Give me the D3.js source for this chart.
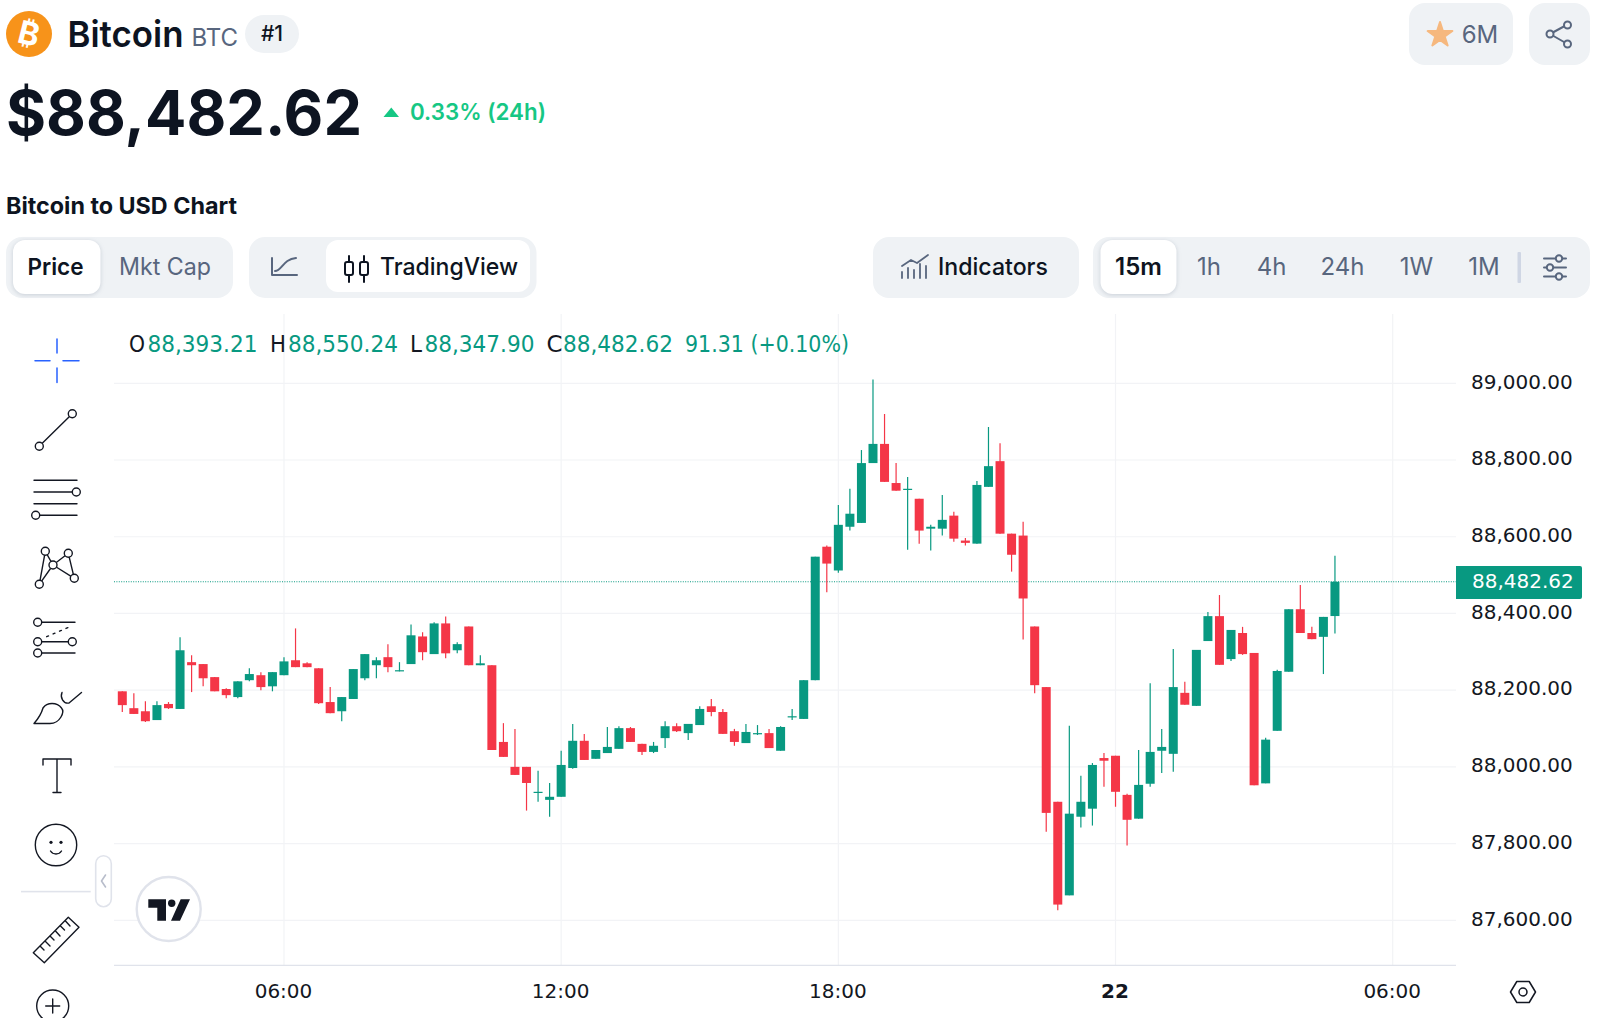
<!DOCTYPE html>
<html><head><meta charset="utf-8">
<script src="https://cdn.jsdelivr.net/npm/d3@7/dist/d3.min.js"></script>
<style>html,body{margin:0;padding:0;background:#fff;overflow:hidden}svg{display:block}
text{font-family:Inter,"Noto Sans",sans-serif}
.tv text{font-family:"DejaVu Sans",sans-serif}</style></head><body>
<svg id="c" width="1608" height="1026" viewBox="0 0 1608 1026"></svg>
<script>
const opens=[88197,88153,88145,88122,88164,88151,88273,88268,88234,88203,88182,88226,88239,88210,88239,88278,88270,88257,88169,88145,88177,88231,88265,88286,88249,88268,88340,88294,88374,88304,88366,88265,88265,88065,88000,88000,87932,87914,87922,87997,88068,88021,88036,88047,88101,88060,88039,88075,88106,88088,88109,88158,88143,88093,88062,88086,88088,88042,88130,88125,88226,88574,88512,88626,88636,88792,88842,88740,88722,88699,88621,88621,88655,88590,88582,88730,88797,88608,88603,88366,88208,87909,87665,87870,87891,88023,88029,87927,87865,87956,88042,88034,88193,88159,88328,88393,88281,88349,88297,87957,88094,88248,88411,88349,88339,88393.21];
const highs=[88197,88192,88171,88171,88169,88338,88291,88268,88234,88205,88223,88257,88247,88247,88286,88361,88273,88257,88208,88182,88255,88294,88286,88320,88273,88371,88351,88377,88392,88325,88366,88291,88265,88114,88099,88000,87990,87958,88042,88112,88086,88044,88104,88106,88104,88060,88065,88119,88114,88112,88158,88177,88151,88099,88112,88109,88099,88106,88151,88226,88548,88577,88683,88725,88826,89010,88920,88792,88756,88699,88631,88709,88665,88597,88745,88886,88844,88608,88639,88366,88208,87909,88107,87977,88010,88036,88029,87930,88044,88218,88099,88307,88222,88305,88404,88448,88357,88365,88297,88076,88253,88411,88474,88365,88391,88550.24];
const lows=[88143,88138,88117,88122,88151,88151,88195,88210,88197,88179,88179,88223,88200,88197,88239,88260,88260,88164,88140,88119,88177,88226,88231,88247,88249,88268,88278,88294,88283,88296,88265,88265,88044,88026,87979,87886,87909,87870,87922,87995,88018,88021,88036,88047,88065,88031,88036,88049,88091,88070,88109,88132,88086,88055,88062,88083,88049,88042,88122,88125,88226,88455,88506,88616,88636,88792,88743,88720,88566,88582,88564,88603,88587,88577,88582,88730,88608,88509,88332,88192,87831,87626,87665,87842,87847,87948,87896,87795,87865,87948,87984,87987,88162,88159,88328,88266,88276,88292,87952,87957,88094,88248,88349,88333,88242,88347.90];
const closes=[88161,88138,88119,88161,88153,88304,88265,88231,88197,88187,88223,88242,88208,88247,88275,88260,88260,88166,88140,88182,88255,88294,88278,88260,88252,88343,88299,88374,88296,88320,88265,88270,88044,88026,87979,87958,87935,87922,88005,88068,88018,88044,88052,88101,88065,88039,88055,88106,88093,88112,88151,88143,88086,88065,88091,88088,88049,88104,88132,88226,88548,88530,88631,88660,88792,88842,88743,88720,88725,88616,88626,88644,88595,88584,88735,88784,88608,88553,88439,88213,87880,87641,87878,87909,88005,88016,87935,87862,87953,88039,88052,88208,88162,88305,88393,88266,88357,88294,87952,88071,88250,88411,88349,88333,88391,88482.62];
const priceTicks=[87600,87800,88000,88200,88400,88600,88800,89000];
const timeTickBars=[14,38,62,86,110];
const timeTickLabels=["06:00","12:00","18:00","22","06:00"];
const lastPrice=88482.62;
const legendLabels=["O","H","L","C"];
const legendValues=["88,393.21","88,550.24","88,347.90","88,482.62"];
const legendChange="91.31 (+0.10%)";
const timeframes=["1h","4h","24h","1W","1M"];

const UP="#089981",DOWN="#f43647",GRID="#f2f3f6",INK="#131722",NAVY="#0d1421",MUTE="#58667e",PILL="#eff2f5";
const svg=d3.select("#c");
const y=d3.scaleLinear().domain([87600,89000]).range([920.3,383.3]);
const x=d3.scaleLinear().domain([0,110]).range([122.3,1392.7]);
const candles=opens.map((o,i)=>({i,o,h:highs[i],l:lows[i],c:closes[i]}));

function txt(g,s,tx,ty,size,weight,fill,anchor){return g.append("text").attr("x",tx).attr("y",ty).attr("font-size",size).attr("font-weight",weight).attr("fill",fill).attr("text-anchor",anchor||"start").text(s);}
function box(g,a,b,c,d,r,fill){return g.append("rect").attr("x",a).attr("y",b).attr("width",c-a).attr("height",d-b).attr("rx",r).attr("fill",fill);}
function pth(g,d,stroke,w,fill){return g.append("path").attr("d",d).attr("fill",fill||"none").attr("stroke",stroke).attr("stroke-width",w||1.4).attr("stroke-linecap","round").attr("stroke-linejoin","round");}
function circ(g,cx,cy,r,stroke,w){return g.append("circle").attr("cx",cx).attr("cy",cy).attr("r",r).attr("fill","#fff").attr("stroke",stroke).attr("stroke-width",w||1.4);}

// header
const hd=svg.append("g");
hd.append("ellipse").attr("cx",29).attr("cy",34).attr("rx",23).attr("ry",23).attr("fill","#f7931a");
txt(hd,"₿",29,45,32,700,"#fff","middle").attr("transform","rotate(14 29 34)");
txt(hd,"Bitcoin",67.5,47,36,600,NAVY).attr("textLength",116).attr("lengthAdjust","spacingAndGlyphs");
txt(hd,"BTC",191.5,46,24,400,MUTE);
box(hd,245,15,299,53,19,PILL);
txt(hd,"#1",272,41,21,500,NAVY,"middle");
txt(hd,"$88,482.62",6,135,62,700,NAVY).attr("textLength",356).attr("lengthAdjust","spacingAndGlyphs");
hd.append("path").attr("d","M383.5 117L391.3 107.5L399 117Z").attr("fill","#16c784");
txt(hd,"0.33% (24h)",410,120,23,600,"#16c784").attr("textLength",136).attr("lengthAdjust","spacingAndGlyphs");
txt(hd,"Bitcoin to USD Chart",6,214,23,700,NAVY).attr("textLength",231).attr("lengthAdjust","spacingAndGlyphs");

box(hd,1409,3,1513,65,16,PILL);
hd.append("path").attr("d",d3.symbol(d3.symbolStar,190)()).attr("transform","translate(1440 35)").attr("fill","#f6b87e").attr("stroke","#f6b87e").attr("stroke-width",2).attr("stroke-linejoin","round");
txt(hd,"6M",1480,42.5,24,400,MUTE,"middle");
box(hd,1529,3,1590,65,16,PILL);
pth(hd,"M1550 34L1567.5 24.5M1550 34L1567.5 44",MUTE,2);
[[1550,34],[1567.5,25],[1567.5,44]].forEach(p=>circ(hd,p[0],p[1],3.5,MUTE,2).attr("fill",PILL));

// controls
box(hd,6,237,233,298,16,PILL);
box(hd,13,240,100.5,294,12,"#fff").style("filter","drop-shadow(0 1px 2px rgba(88,102,126,.25))");
txt(hd,"Price",55.5,275,23.5,600,NAVY,"middle").attr("textLength",56).attr("lengthAdjust","spacingAndGlyphs");
txt(hd,"Mkt Cap",165,275,24,400,MUTE,"middle").attr("textLength",92).attr("lengthAdjust","spacingAndGlyphs");
box(hd,249,237,536.5,298,16,PILL);
box(hd,326,240,530,292,12,"#fff");
pth(hd,"M272 258V275H297M275 271C282 271 283 259 296 258",MUTE,2);
pth(hd,"M349 256V282M364 256V282",NAVY,2);
box(hd,345,262,353,275,2,"#fff").attr("stroke",NAVY).attr("stroke-width",2);
box(hd,360,262,368,275,2,"#fff").attr("stroke",NAVY).attr("stroke-width",2);
txt(hd,"TradingView",380,275,24,500,NAVY).attr("textLength",138).attr("lengthAdjust","spacingAndGlyphs");
box(hd,873,237,1079,298,16,PILL);
pth(hd,"M902 278V272M908 278V268M914 278V270M920 278V264M926 278V266M902 266L911 260L917 263L928 255",MUTE,1.8);
txt(hd,"Indicators",938,275,24,500,NAVY).attr("textLength",110).attr("lengthAdjust","spacingAndGlyphs");
box(hd,1093,237,1590,298,16,PILL);
box(hd,1100.5,240,1176.5,294,12,"#fff").style("filter","drop-shadow(0 1px 2px rgba(88,102,126,.25))");
txt(hd,"15m",1138.5,275,24,600,NAVY,"middle");
[1209,1271.5,1342.5,1416.5,1484].forEach((cx,i)=>txt(hd,timeframes[i],cx,275,24,400,MUTE,"middle"));
box(hd,1517.5,252,1521,283,1,"#cfd6e4");
pth(hd,"M1544 258.5H1566M1544 267.5H1566M1544 276.5H1566",MUTE,2);
[[1559,258.5],[1550,267.5],[1559,276.5]].forEach(p=>circ(hd,p[0],p[1],3.2,MUTE,2).attr("fill",PILL));

// grid
const plot=svg.append("g").attr("class","tv");
plot.append("g").selectAll("line").data(priceTicks).join("line")
 .attr("x1",114).attr("x2",1456).attr("y1",d=>y(d)).attr("y2",d=>y(d)).attr("stroke",GRID).attr("stroke-width",1.2);
plot.append("g").selectAll("line").data(timeTickBars).join("line")
 .attr("x1",d=>x(d)).attr("x2",d=>x(d)).attr("y1",314).attr("y2",965).attr("stroke",GRID).attr("stroke-width",1.2);
plot.append("line").attr("x1",114).attr("x2",1456).attr("y1",965.3).attr("y2",965.3).attr("stroke","#e0e3eb").attr("stroke-width",1.3);

// last-price line
plot.append("line").attr("x1",114).attr("x2",1456).attr("y1",y(lastPrice)).attr("y2",y(lastPrice)).attr("stroke",UP).attr("stroke-width",1).attr("stroke-dasharray","1 1.4");

// candles
const cg=plot.append("g").selectAll("g").data(candles).join("g");
cg.append("line").attr("x1",d=>x(d.i)).attr("x2",d=>x(d.i)).attr("y1",d=>y(d.h)).attr("y2",d=>y(d.l))
 .attr("stroke",d=>d.c>=d.o?UP:DOWN).attr("stroke-width",1.2);
cg.append("rect").attr("x",d=>x(d.i)-4.5).attr("width",9).attr("y",d=>y(Math.max(d.o,d.c)))
 .attr("height",d=>Math.max(1.2,Math.abs(y(d.o)-y(d.c)))).attr("fill",d=>d.c>=d.o?UP:DOWN);

// axes
const yAxis=d3.axisRight(y).tickValues(priceTicks).tickFormat(d3.format(",.2f")).tickSize(0).tickPadding(0);
const ya=plot.append("g").attr("transform","translate(1471,0)").call(yAxis);
ya.select(".domain").remove();
ya.selectAll("text").attr("font-size",20).attr("fill",INK).attr("dy",4.8).style("font-family",'"DejaVu Sans",sans-serif');
const xAxis=d3.axisBottom(x).tickValues(timeTickBars).tickFormat((d,i)=>timeTickLabels[i]).tickSize(0).tickPadding(0);
const xa=plot.append("g").attr("transform","translate(-1,983)").call(xAxis);
xa.select(".domain").remove();
xa.selectAll("text").attr("font-size",20).attr("fill",INK).attr("dy",15).attr("y",0)
 .attr("font-weight",(d,i)=>timeTickLabels[i]==="22"?700:400).style("font-family",'"DejaVu Sans",sans-serif');

// price tag
const tag=plot.append("g");
tag.append("path").attr("d","M1456 566H1580Q1582 566 1582 568V597Q1582 599 1580 599H1456Z").attr("fill",UP);
txt(tag,d3.format(",.2f")(lastPrice),1472,588.3,20,400,"#fff");

// legend
const lg=plot.append("g");
[[129,147.5],[270,288],[410,424.5],[546.5,563]].forEach((p,i)=>{
 txt(lg,legendLabels[i],p[0],352.3,22.5,400,INK).attr("textLength",i==2?12:16).attr("lengthAdjust","spacingAndGlyphs");
 txt(lg,legendValues[i],p[1],352.3,22.5,400,UP).attr("textLength",110).attr("lengthAdjust","spacingAndGlyphs");
});
txt(lg,legendChange,685,352.3,22.5,400,UP).attr("textLength",164).attr("lengthAdjust","spacingAndGlyphs");

// toolbar icons
const tb=svg.append("g");
pth(tb,"M57 339V353M57 368V382.5M35 360.7H50M63 360.7H79","#2962ff",1.5);
pth(tb,"M42 443.5L69.5 416.5",INK);circ(tb,72.3,413.7,4,INK);circ(tb,39.3,446.3,4,INK);
pth(tb,"M34 480.3H77M34 492H72M34 503.7H77M40 515.3H77",INK);circ(tb,76.3,492,4,INK);circ(tb,35.7,515.3,4,INK);
pth(tb,"M39.3 584.3L45.3 551.3L53 565L68.3 553.3L74.3 578.3L53 565L39.3 584.3",INK);
[[45.3,551.3],[68.3,553.3],[53,565],[39.3,584.3],[74.3,578.3]].forEach(p=>circ(tb,p[0],p[1],4,INK));
pth(tb,"M37.7 622.3H75M37.7 641.7H72M37.7 653H75",INK);
pth(tb,"M46.7 636.7L71.7 626",INK).attr("stroke-dasharray","2 5");
[[37.7,622.3],[37.7,641.7],[72.3,641.7],[37.7,653]].forEach(p=>circ(tb,p[0],p[1],4,INK));
pth(tb,"M34 723.5H50C60 723.5 65 712 61.5 708C57 702 47 702 43 708C41 715 38 719 34 723.5Z",INK);
pth(tb,"M62 692.5C60 697 63 704 69 703L81.5 692.5",INK);
pth(tb,"M43 765V759H71V765M57 759V792.5M53 792.5H61",INK);
circ(tb,56,845,20.7,INK);
tb.append("circle").attr("cx",51).attr("cy",842.3).attr("r",1.6).attr("fill",INK);
tb.append("circle").attr("cx",61).attr("cy",842.3).attr("r",1.6).attr("fill",INK);
pth(tb,"M50.5 851C53 855 59 855 61.5 851",INK);
box(tb,21,890.8,90.7,892.4,0,"#e0e3eb");
box(tb,95.7,855.7,111.3,906.7,8,"#fff").attr("stroke","#e0e3eb").attr("stroke-width",1.6);
pth(tb,"M105.5 875L101.5 881L105.5 887","#b8bdcb",1.6);
pth(tb,"M68.3 917.3L79 927.3L44.3 962.7L33.3 952.7ZM40 946L44 950M45 941L50 946M50 936L54 940M55.5 931L60 936M60.5 926L64.5 930M65.5 921L70 926",INK);
svg.append("clipPath").attr("id","zc").append("rect").attr("x",0).attr("y",960).attr("width",120).attr("height",58);
const zg=tb.append("g").attr("clip-path","url(#zc)");
circ(zg,52.7,1006,16,INK);
pth(zg,"M52.7 999V1013M45.7 1006H59.7",INK);
// TradingView mark
circ(tb,168.7,909,32,"#e0e3eb",2.4);
tb.append("path").attr("d","M148.3 899.3H166V920.7H157.3V907.7H148.3ZM190 899.3L180 920.7H171L180.7 899.3Z").attr("fill",INK);
tb.append("circle").attr("cx",171.7).attr("cy",903.3).attr("r",3.7).attr("fill",INK);
// settings hex
pth(tb,"M1510.5 992L1516.8 981.5H1529.2L1535.5 992L1529.2 1002.5H1516.8Z",INK,1.5);
tb.append("circle").attr("cx",1523).attr("cy",992).attr("r",4).attr("fill","none").attr("stroke",INK).attr("stroke-width",1.5);
</script></body></html>
